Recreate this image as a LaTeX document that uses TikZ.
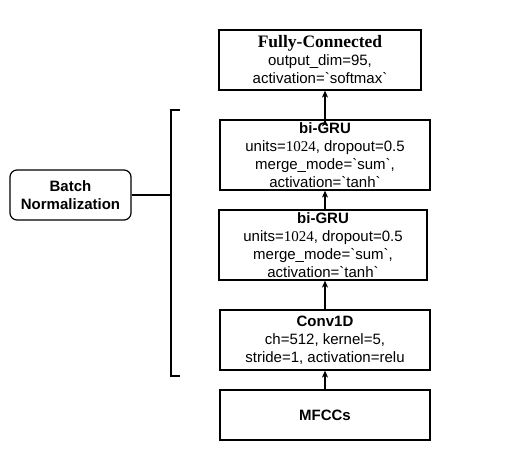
\documentclass[tikz,border=0pt]{standalone}
\usepackage{fontspec}
\setmainfont{Liberation Sans}
\newfontfamily\titlefont{Liberation Serif}
\usepackage{tikz}
\usetikzlibrary{arrows.meta, positioning}
\newcommand{\gq}{\textasciigrave}

\begin{document}
\begin{tikzpicture}[x=1pt, y=-1pt, font=\fontsize{15}{18}\selectfont]
        % Setup the style for the layers
        \tikzset{layer style/.style={draw, rectangle,
                                    line width=1.2pt,
                                    align=center,
                                    inner sep=0pt,
                                    minimum width=210pt}}
        \tikzset{norm style/.style={draw, rectangle,
                                    rounded corners=7pt,
                                    line width=1.2pt,
                                    align=center,
                                    inner sep=0pt,
                                    minimum width=121pt,
                                    minimum height=50pt}}
        \tikzset{link style/.style={line width=1.2pt,
                                    -{Stealth[length=7pt, width=6pt, inset=2pt]}}}

        \useasboundingbox (0,0) rectangle (510,460);

        % Draw the layers
        \node[layer style, minimum width=202pt, minimum height=60pt] at (320, 60) (dense)
              {{\titlefont\bfseries\fontsize{17.5}{18}\selectfont Fully-Connected}\\
               output\_dim=95,\\ activation=\gq softmax\gq};
        \node[layer style, minimum height=70pt] at (325, 155) (gru1)
              {\textbf{bi-GRU}\\ units={\titlefont 1024}, dropout=0.5\\
               merge\_mode=\gq sum\gq,\\ activation=\gq tanh\gq};
        \node[layer style, minimum width=208pt, minimum height=70pt] at (323, 245) (gru2)
              {\textbf{bi-GRU}\\ units={\titlefont 1024}, dropout=0.5\\
               merge\_mode=\gq sum\gq,\\ activation=\gq tanh\gq};
        \node[layer style, minimum height=60pt] at (325, 340) (conv)
              {\textbf{Conv1D}\\ ch=512, kernel=5,\\ stride=1, activation=relu};
        \node[layer style, minimum height=50pt] at (325, 415) (mfcc)
              {\textbf{MFCCs}};
        \node[norm style] at (70.5, 195) (norm)
              {\textbf{Batch}\\ \textbf{Normalization}};

        % The bracket
        \coordinate (brtop) at (171, 110);
        \coordinate (brbot) at (171, 376);
        \draw[line width=1.2pt] ([xshift=9pt]brtop) -- (brtop) -- (brbot) -- ([xshift=9pt]brbot);
        \draw[line width=1.2pt] (norm.east) -- (norm.east -| brtop);

        % Connect the layers with arrows
        \draw[link style]
              (mfcc.north)               edge (conv.south)
              (conv.north)               edge (conv.north |- gru2.south)
              (gru1.south |- gru2.north) edge (gru1.south)
              (gru1.north)               edge (gru1.north |- dense.south);
\end{tikzpicture}
\end{document}
